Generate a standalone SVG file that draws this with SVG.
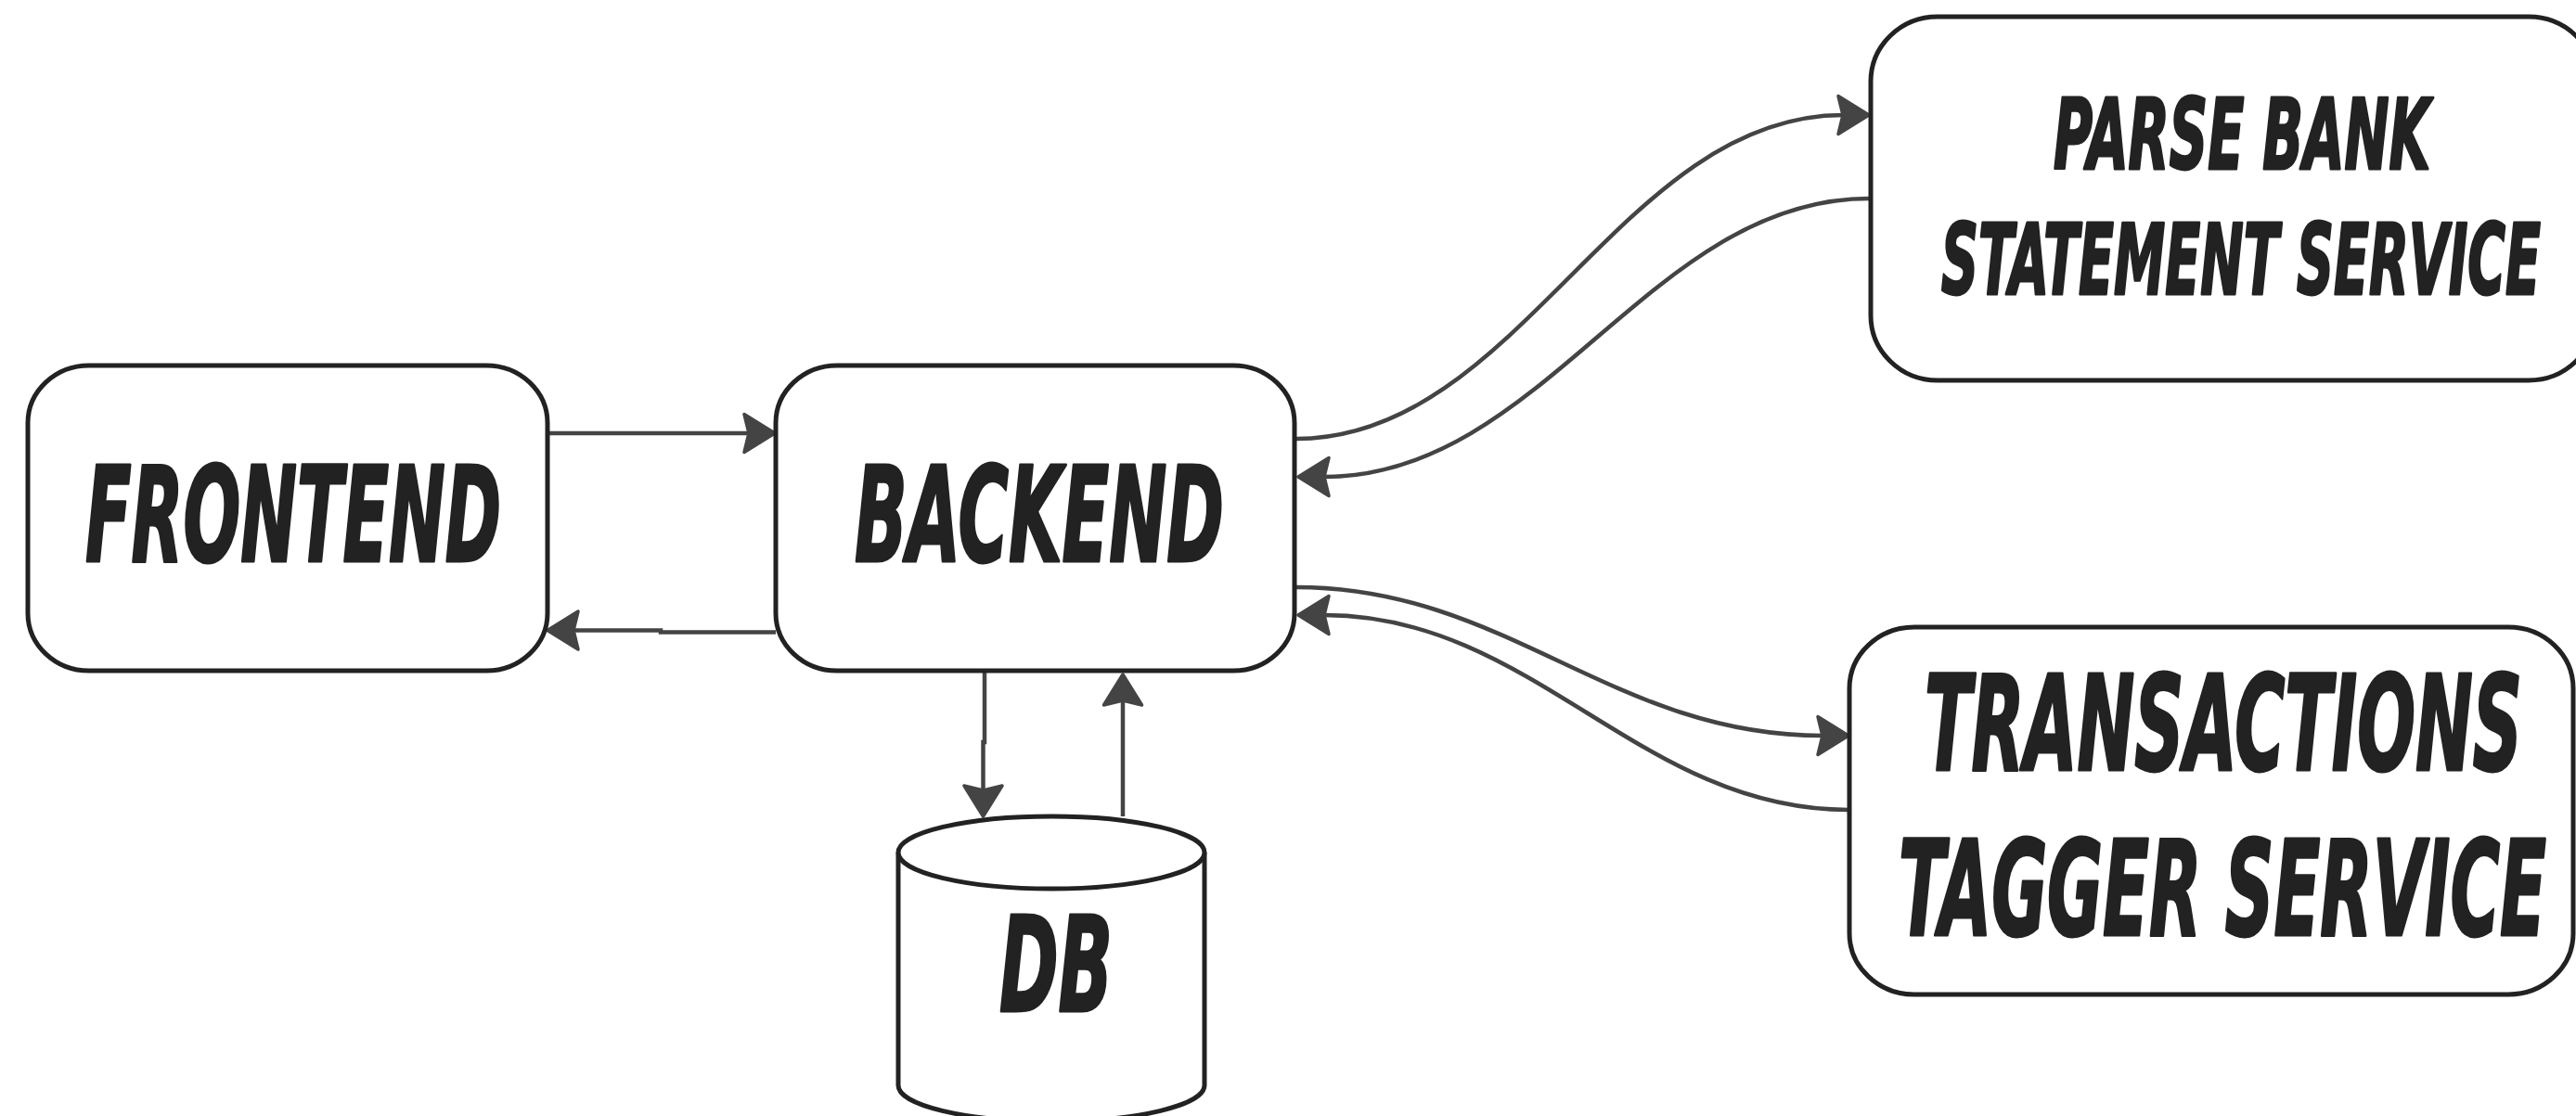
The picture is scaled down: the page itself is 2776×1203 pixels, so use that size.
<svg xmlns="http://www.w3.org/2000/svg" width="2776" height="1203" viewBox="0 0 2776 1203">
  <defs>
    <style>
      .node { fill: #ffffff; stroke: #222222; stroke-width: 5; }
      .label { fill: #222222; stroke: #222222; stroke-width: 3; stroke-linejoin: round; font-family: "Liberation Sans Narrow", "DejaVu Sans Condensed", "Liberation Sans", sans-serif; font-weight: bold; font-style: italic; text-anchor: middle; }
      .big { font-size: 142px; }
      .small { font-size: 106px; }
      .link { fill: none; stroke: #444444; stroke-width: 4.5; }
    </style>
    <!-- concave arrowhead; the path ends at the notch, the tip sits 28px further on -->
    <marker id="arrow" markerUnits="userSpaceOnUse" markerWidth="44" markerHeight="50" viewBox="-8 -25 44 50" refX="0" refY="0" orient="auto">
      <path d="M28,0 L-5,-20.5 L0,0 L-5,20.5 Z" fill="#444444" stroke="#444444" stroke-width="3.5" stroke-linejoin="round"/>
    </marker>
  </defs>

  <rect width="2776" height="1203" fill="#ffffff"/>

  <!-- connectors -->
  <g id="connectors">
    <path class="link" marker-end="url(#arrow)" d="M590,467 H807"/>
    <path class="link" marker-end="url(#arrow)" d="M836,681.5 H712 V679.5 H618"/>
    <path class="link" marker-end="url(#arrow)" d="M1061,725 V800 H1059.5 V852"/>
    <path class="link" marker-end="url(#arrow)" d="M1210,880 V755"/>
    <path class="link" marker-end="url(#arrow)" d="M1397,473 C1637,473 1746,124 1986,124"/>
    <path class="link" marker-end="url(#arrow)" d="M2014,214 C1778,214 1663,514 1427,514"/>
    <path class="link" marker-end="url(#arrow)" d="M1397,633 C1624,633 1737,793 1964,793"/>
    <path class="link" marker-end="url(#arrow)" d="M1992,873 C1766,873 1653,663 1427,663"/>
  </g>

  <g id="frontend">
    <rect class="node" x="30" y="394" width="560" height="329" rx="66" ry="62"/>
    <text class="label big" x="316" y="605" textLength="448" lengthAdjust="spacingAndGlyphs">FRONTEND</text>
  </g>

  <g id="backend">
    <rect class="node" x="836" y="394" width="559" height="329" rx="66" ry="62"/>
    <text class="label big" x="1120" y="605" textLength="398" lengthAdjust="spacingAndGlyphs">BACKEND</text>
  </g>

  <g id="parse-bank-statement-service">
    <rect class="node" x="2016" y="18" width="781" height="392" rx="72" ry="70"/>
    <text class="label small" x="2416" y="182" textLength="406" lengthAdjust="spacingAndGlyphs">PARSE BANK</text>
    <text class="label small" x="2415" y="317" textLength="646" lengthAdjust="spacingAndGlyphs">STATEMENT SERVICE</text>
  </g>

  <g id="transactions-tagger-service">
    <rect class="node" x="1993" y="676" width="780" height="396" rx="70" ry="66"/>
    <text class="label big" x="2396" y="830" textLength="644" lengthAdjust="spacingAndGlyphs">TRANSACTIONS</text>
    <text class="label big" x="2395" y="1008" textLength="698" lengthAdjust="spacingAndGlyphs">TAGGER SERVICE</text>
  </g>

  <g id="db">
    <path class="node" d="M968,919 V1170 A165,39 0 0 0 1298,1170 V919"/>
    <ellipse class="node" cx="1133" cy="919" rx="165" ry="39"/>
    <text class="label big" x="1138" y="1090" textLength="122" lengthAdjust="spacingAndGlyphs">DB</text>
  </g>
</svg>
